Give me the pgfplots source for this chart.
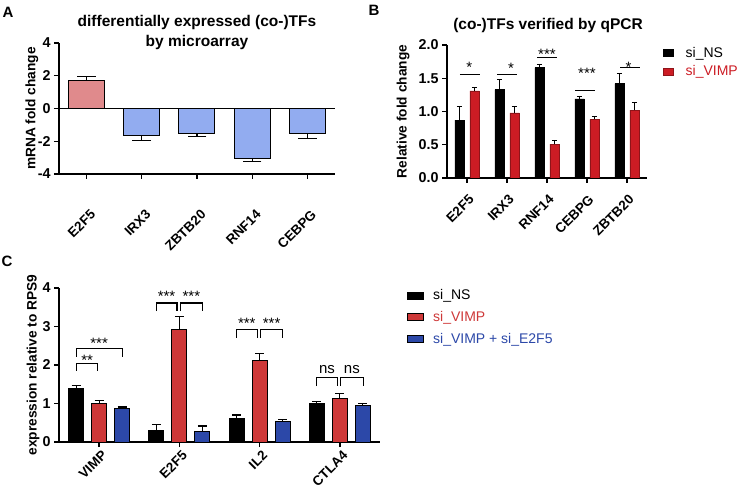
\documentclass[border=0pt]{standalone}
\usepackage{pgfplots}
\pgfplotsset{compat=1.18}
\usepackage{fontspec}
\setmainfont{Liberation Sans}

\definecolor{apink}{RGB}{224,138,140}
\definecolor{ablue}{RGB}{146,172,240}
\definecolor{bred}{RGB}{204,28,36}
\definecolor{cred}{RGB}{206,56,56}
\definecolor{cblue}{RGB}{44,72,168}

\pgfplotsset{
  panel/.style={
    scale only axis,
    axis x line*=bottom, axis y line*=left,
    axis line style={line width=1.3pt},
    tick style={line width=1.3pt, black},
    major tick length=5pt, tick align=outside,
    ticklabel style={font=\bfseries\fontsize{13.5}{16}\selectfont},
    yticklabel style={font=\bfseries\fontsize{14.3}{16}\selectfont},
    /pgf/number format/assume math mode=true,
    label style={font=\bfseries\fontsize{13.7}{16}\selectfont},
    ylabel style={anchor=center},
    error bars/y explicit,
    error bars/error bar style={line width=1.2pt, black},
  },
  boxlegend/.style 2 args={
    legend image code/.code={\draw[##1, line width=#2] (0pt,-3.5pt) rectangle (#1,3.5pt);}},
}
\newcommand{\stars}[3]{\node[anchor=base, yshift=-8.5pt, inner sep=0pt, font=\fontsize{15}{18}\selectfont] at (axis cs:#1,#2) {#3};}
\newcommand{\brk}[4]{\draw[line width=1.1pt] (axis cs:#1,#4) -- (axis cs:#1,#3) -- (axis cs:#2,#3) -- (axis cs:#2,#4);}

\begin{document}
\begin{tikzpicture}[x=1pt,y=1pt]
\path[use as bounding box] (0,0) rectangle (739,488);

\node[font=\bfseries\fontsize{15}{18}\selectfont] at (8,476) {A};
\node[font=\bfseries\fontsize{15}{18}\selectfont] at (374,478) {B};
\node[font=\bfseries\fontsize{15}{18}\selectfont] at (7,227) {C};

\node[align=center, font=\bfseries\fontsize{15.5}{20}\selectfont] at (197,456)
  {differentially expressed (co-)TFs\\by microarray};
\node[font=\bfseries\fontsize{15.5}{20}\selectfont] at (548,463) {(co-)TFs verified by qPCR};

% ---------- A ----------
\begin{axis}[panel,
  at={(59pt,314pt)}, anchor=south west,
  width=276pt, height=131pt,
  xmin=-0.5, xmax=4.5, ymin=-4, ymax=4,
  xtick={0,1,2,3,4},
  xticklabels={E2F5,IRX3,ZBTB20,RNF14,CEBPG},
  ytick={-4,-2,0,2,4}, yticklabels={-4,-2,0,2,4},
  xticklabel style={xshift=3pt, yshift=-25pt, rotate=45, anchor=north east},
  ylabel={mRNA fold change},
  ylabel style={at={(axis description cs:-0.098,0.5)}},
]
\addplot[ybar, bar width=36pt, bar shift=0pt, fill=apink, draw=black, line width=1pt,
  error bars/y dir=plus,
  error bars/error mark options={rotate=90, mark size=9.3pt, line width=1.2pt, black}]
  coordinates {(0,1.69) +- (0,0.28)};
\addplot[ybar, bar width=36pt, bar shift=0pt, fill=ablue, draw=black, line width=1pt,
  error bars/y dir=minus,
  error bars/error mark options={rotate=90, mark size=9.3pt, line width=1.2pt, black}]
  coordinates {(1,-1.64) +- (0,0.29) (2,-1.54) +- (0,0.19) (3,-3.07) +- (0,0.16) (4,-1.54) +- (0,0.29)};
\draw[line width=1.3pt] (axis cs:-0.5,0) -- (axis cs:4.5,0);
\end{axis}

% ---------- B ----------
\begin{axis}[panel,
  at={(447pt,310pt)}, anchor=south west,
  width=200pt, height=133pt,
  ybar=5.5pt, bar width=9.5pt,
  boxlegend={10pt}{0.5pt},
  xmin=-0.5, xmax=4.5, ymin=0, ymax=2,
  xtick={0,1,2,3,4},
  xticklabels={E2F5,IRX3,RNF14,CEBPG,ZBTB20},
  ytick={0,0.5,1,1.5,2}, yticklabels={0.0,0.5,1.0,1.5,2.0},
  xticklabel style={xshift=1pt, yshift=-6pt, rotate=45, anchor=north east},
  ylabel={Relative fold change},
  ylabel style={at={(axis description cs:-0.22,0.5)}},
  error bars/y dir=plus,
  error bars/error mark options={rotate=90, mark size=2.7pt, line width=1.2pt, black},
  legend style={at={(axis description cs:1.08,0.985)}, anchor=north west,
    draw=none, fill=none, inner sep=0pt, row sep=7pt,
    nodes={inner sep=0pt, font=\fontsize{14}{16}\selectfont},
    /tikz/every odd column/.append style={column sep=12pt}},
  legend cell align=left,
]
\addplot[fill=black, draw=black, line width=0.5pt]
  coordinates {(0,0.87) +- (0,0.21) (1,1.33) +- (0,0.15) (2,1.66) +- (0,0.05) (3,1.19) +- (0,0.04) (4,1.42) +- (0,0.15)};
\addplot[fill=bred, draw=bred!70!black, line width=0.5pt]
  coordinates {(0,1.31) +- (0,0.05) (1,0.98) +- (0,0.09) (2,0.51) +- (0,0.05) (3,0.88) +- (0,0.04) (4,1.02) +- (0,0.12)};
\legend{si\_NS, \textcolor{bred}{si\_VIMP}}
\draw[line width=1.1pt] (axis cs:-0.18,1.55) -- (axis cs:0.32,1.55);
\draw[line width=1.1pt] (axis cs:0.76,1.56) -- (axis cs:1.26,1.56);
\draw[line width=1.1pt] (axis cs:1.76,1.81) -- (axis cs:2.25,1.81);
\draw[line width=1.1pt] (axis cs:2.7,1.31) -- (axis cs:3.2,1.31);
\draw[line width=1.1pt] (axis cs:3.83,1.66) -- (axis cs:4.32,1.66);
\stars{0.06}{1.71}{*}
\stars{1.1}{1.70}{*}
\stars{2.0}{1.91}{***}
\stars{3.0}{1.63}{***}
\stars{4.04}{1.72}{*}
\end{axis}

% ---------- C ----------
\begin{axis}[panel,
  at={(59pt,46pt)}, anchor=south west,
  width=321pt, height=154pt,
  ybar=8pt, bar width=15pt,
  boxlegend={16pt}{1pt},
  xmin=-0.5, xmax=3.5, ymin=0, ymax=4,
  xtick={0,1,2,3},
  xticklabels={VIMP,E2F5,IL2,CTLA4},
  ytick={0,1,2,3,4}, yticklabels={0,1,2,3,4},
  xticklabel style={xshift=2pt, yshift=2pt, rotate=45, anchor=north east},
  ylabel={expression relative to RPS9},
  ylabel style={at={(axis description cs:-0.081,0.5)}},
  error bars/y dir=plus,
  error bars/error mark options={rotate=90, mark size=4.5pt, line width=1.2pt, black},
  legend style={at={(axis description cs:1.084,0.99)}, anchor=north west,
    draw=none, fill=none, inner sep=0pt, row sep=10pt,
    nodes={inner sep=0pt, font=\fontsize{14}{16}\selectfont},
    /tikz/every odd column/.append style={column sep=9pt}},
  legend cell align=left,
]
\addplot[fill=black, draw=black, line width=1pt]
  coordinates {(0,1.40) +- (0,0.07) (1,0.30) +- (0,0.15) (2,0.60) +- (0,0.10) (3,1.00) +- (0,0.06)};
\addplot[fill=cred, draw=black, line width=1pt]
  coordinates {(0,0.99) +- (0,0.08) (1,2.92) +- (0,0.35) (2,2.12) +- (0,0.17) (3,1.12) +- (0,0.15)};
\addplot[fill=cblue, draw=black, line width=1pt]
  coordinates {(0,0.86) +- (0,0.05) (1,0.285) +- (0,0.13) (2,0.52) +- (0,0.07) (3,0.96) +- (0,0.03)};
\legend{si\_NS, \textcolor{cred}{si\_VIMP}, \textcolor{cblue}{si\_VIMP + si\_E2F5}}
\brk{-0.28}{-0.02}{2.05}{1.85}
\brk{-0.28}{0.29}{2.43}{2.22}
\stars{-0.15}{2.21}{**}
\stars{0.0}{2.64}{***}
\brk{0.71}{0.97}{3.61}{3.40}
\brk{1.01}{1.29}{3.61}{3.40}
\stars{0.84}{3.88}{***}
\stars{1.15}{3.88}{***}
\brk{1.71}{1.97}{2.93}{2.71}
\brk{2.01}{2.29}{2.93}{2.71}
\stars{1.84}{3.18}{***}
\stars{2.15}{3.18}{***}
\brk{2.71}{2.97}{1.67}{1.45}
\brk{3.01}{3.29}{1.67}{1.45}
\node[anchor=base, yshift=-4pt, inner sep=0pt, font=\fontsize{15}{18}\selectfont] at (axis cs:2.84,1.89) {ns};
\node[anchor=base, yshift=-4pt, inner sep=0pt, font=\fontsize{15}{18}\selectfont] at (axis cs:3.15,1.89) {ns};
\end{axis}
\end{tikzpicture}
\end{document}
